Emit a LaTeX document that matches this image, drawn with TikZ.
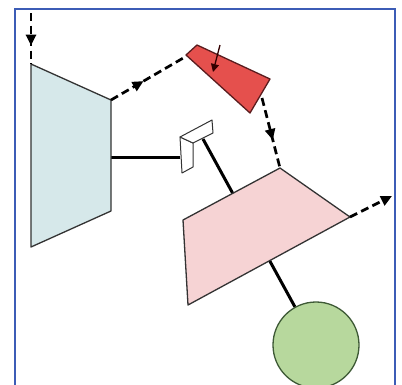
\documentclass[tikz,border=0pt]{standalone}
\usetikzlibrary{arrows.meta,decorations.markings}
\definecolor{framecol}{HTML}{3C5CB6}
\definecolor{compfill}{HTML}{D6E8EA}
\definecolor{combfill}{HTML}{E5504D}
\definecolor{combedge}{HTML}{5A1C1E}
\definecolor{turbfill}{HTML}{F6D3D4}
\definecolor{genfill}{HTML}{B7D89D}
\definecolor{genedge}{HTML}{3E5A36}
\begin{document}
\begin{tikzpicture}[x=1pt,y=-1pt,
  part/.style={draw=black!80, line width=1.3pt, line join=round},
  flow/.style={line width=2.7pt, dash pattern=on 8pt off 4.5pt},
  shaftline/.style={line width=3pt},
  tip/.style={-{Triangle[length=11pt,width=10pt]}},
  midarrow/.style={postaction={decorate},
    decoration={markings, mark=at position #1 with {\arrow{Triangle[length=11pt,width=10pt]}}}}]
\useasboundingbox (0,0) rectangle (402,384);
\fill[white] (0,0) rectangle (402,384);

% outer frame
\draw[framecol, line width=1.2pt] (15,392) -- (15,9) -- (395,9) -- (395,392);

% key points
\coordinate (inlet)   at (31,13);
\coordinate (cA) at (31,64);  \coordinate (cB) at (111,100);
\coordinate (cC) at (111,211); \coordinate (cD) at (31,247);
\coordinate (bA) at (197,45); \coordinate (bB) at (270,79);
\coordinate (bC) at (250,113); \coordinate (bD) at (186,55);
\coordinate (bIn) at (185,57); \coordinate (bOut) at (262,98);
\coordinate (tA) at (183,220); \coordinate (tB) at (280,168);
\coordinate (tC) at (350,217); \coordinate (tD) at (188,305);
\coordinate (exhaust) at (392,196);
\coordinate (cShaft) at (111,157);
\coordinate (gShaft) at (180,157);
\coordinate (gTop) at (203,139);
\coordinate (genC) at (316,345);
\coordinate (genTop) at (295,307);

% shafts (behind the parts)
\draw[shaftline] (cShaft) -- (gShaft);
\draw[shaftline] (gTop) -- (genTop);

% generator
\node[circle, minimum size=86pt, inner sep=0pt, fill=genfill, draw=genedge, line width=1.3pt] (gen) at (genC) {};

% turbine
\filldraw[part, fill=turbfill] (tA) -- (tB) -- (tC) -- (tD) -- cycle;

% compressor
\filldraw[part, fill=compfill] (cA) -- (cB) -- (cC) -- (cD) -- cycle;

% coupling block
\filldraw[part, line width=1pt, fill=white] (180,137) -- (193,143) -- (193,167) -- (182,173) -- cycle;
\filldraw[part, line width=1pt, fill=white] (180,137) -- (212,120) -- (213,133) -- (193,143) -- cycle;

% combustor
\filldraw[draw=combedge, line width=1.3pt, line join=round, fill=combfill] (bA) -- (bB) -- (bC) -- (bD) -- cycle;
\coordinate (fuelA) at (220,45);
\coordinate (fuelB) at (213,72);
\draw[line width=1.3pt, -{Triangle[length=8pt,width=8pt]}, color=black!80!red] (fuelA) -- (fuelB);

% gas flow
\draw[flow, midarrow=0.64] (inlet) -- (cA);
\draw[flow, midarrow=0.44] (cB) -- (bIn);
\draw[flow, midarrow=0.6] (bOut) -- (tB);
\draw[flow, tip] (tC) -- (exhaust);
\end{tikzpicture}
\end{document}
